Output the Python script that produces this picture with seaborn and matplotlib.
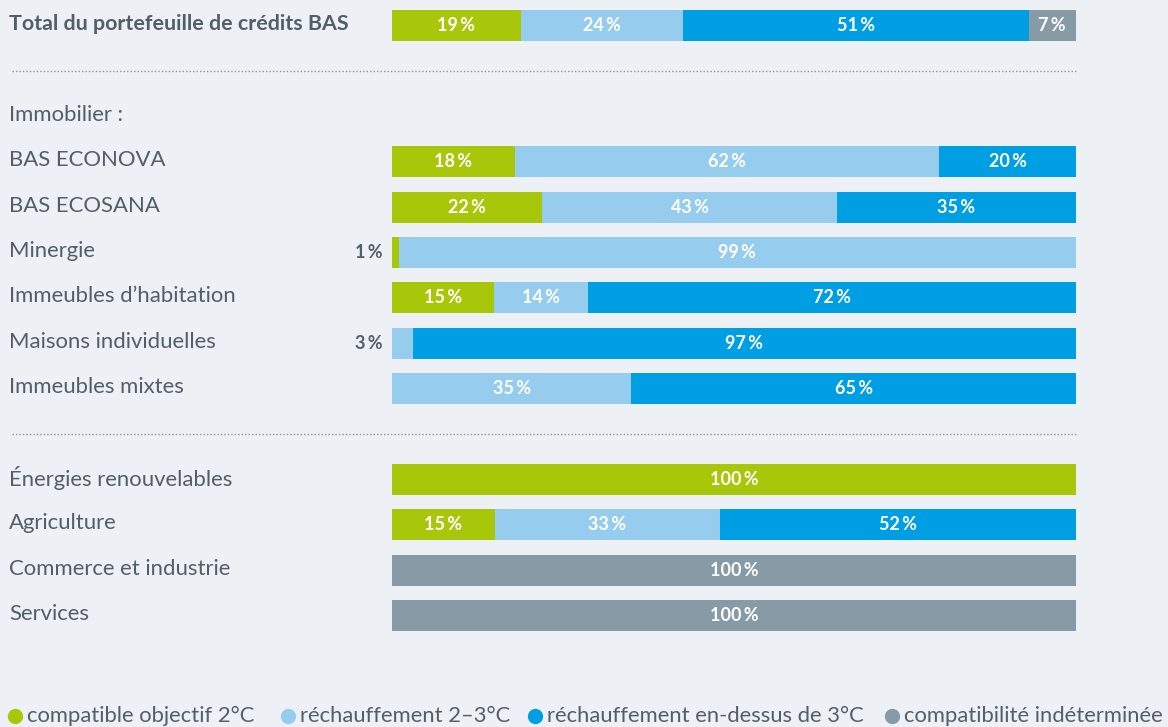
import numpy as np
import pandas as pd
import matplotlib
matplotlib.use("Agg")
import matplotlib.pyplot as plt
import matplotlib.transforms as mtransforms
from matplotlib.lines import Line2D
import seaborn as sns

# ---------------- data ----------------
categories = [
    "Total du portefeuille de crédits BAS",
    "BAS ECONOVA",
    "BAS ECOSANA",
    "Minergie",
    "Immeubles d\u2019habitation",
    "Maisons individuelles",
    "Immeubles mixtes",
    "Énergies renouvelables",
    "Agriculture",
    "Commerce et industrie",
    "Services",
]
compat_2c    = [19, 18, 22,  1, 15,  0,  0, 100, 15,   0,   0]
warm_2_3     = [24, 62, 43, 99, 14,  3, 35,   0, 33,   0,   0]
warm_3plus   = [51, 20, 35,  0, 72, 97, 65,   0, 52,   0,   0]
undetermined = [ 7,  0,  0,  0,  0,  0,  0,   0,  0, 100, 100]

series_names = ["compatible objectif 2°C", "réchauffement 2\u20133°C",
                "réchauffement en-dessus de 3°C", "compatibilité indéterminée"]
series_values = [compat_2c, warm_2_3, warm_3plus, undetermined]
colors = ["#a8c70b", "#96cdef", "#009fe3", "#879ba7"]

section_label = "Immobilier :"
# row order on the axis (placeholders for separators / section heading)
order = [categories[0], "__sep1", section_label] + categories[1:7] + ["__sep2"] + categories[7:]

# ---------------- styling ----------------
sns.set_theme(style="white")
BG = "#edf1f5"
TXT = "#535f67"
plt.rcParams["font.family"] = ["Lato", "DejaVu Sans"]

W, H = 1168, 727
fig = plt.figure(figsize=(W / 100, H / 100), dpi=100, facecolor=BG)

spacing = 45.38
top_px = 25.5 - spacing / 2
n = len(order)
ax_h = n * spacing
ax = fig.add_axes([392 / W, 1 - (top_px + ax_h) / H, 684 / W, ax_h / H])
ax.set_facecolor(BG)

df = pd.DataFrame({"category": categories})
for name, vals in zip(series_names, series_values):
    df[name] = vals
totals = df[series_names].sum(axis=1)
shares = df[series_names].div(totals, axis=0) * 100
cum = shares.cumsum(axis=1)

bar_h = 31 / spacing
# overlay cumulative bars, widest first
for name, col in reversed(list(zip(series_names, colors))):
    d = pd.DataFrame({"category": df["category"], "value": cum[name]})
    sns.barplot(data=d, x="value", y="category", order=order, orient="y",
                color=col, saturation=1, width=bar_h, linewidth=0,
                errorbar=None, ax=ax)

ax.set_xlim(0, 100)
ax.set_ylim(n - 0.5, -0.5)
ax.set_xticks([])
ax.set_yticks([])
ax.set_xlabel("")
ax.set_ylabel("")
for s in ax.spines.values():
    s.set_visible(False)

# segment labels
for i, cat in enumerate(categories):
    yi = order.index(cat)
    left = 0.0
    for name in series_names:
        v = df.loc[i, name]
        w = shares.loc[i, name]
        if v > 0:
            lab = f"{v}\u2009%"
            if v < 5:
                ax.text(-1.3, yi, lab, ha="right", va="center", color=TXT,
                        fontsize=13, fontweight="bold")
            else:
                ax.text(left + w / 2, yi, lab, ha="center", va="center",
                        color="white", fontsize=13, fontweight="bold")
        left += w

# row labels
tr = mtransforms.blended_transform_factory(fig.transFigure, ax.transData)
for lab in order:
    if lab.startswith("__"):
        continue
    yi = order.index(lab)
    bold = lab == categories[0]
    ax.text(9 / W, yi - 0.03, lab, transform=tr, ha="left", va="center",
            color=TXT, fontsize=15.4 if bold else 15.9,
            fontweight="bold" if bold else "normal", clip_on=False)

# dotted separators
for sep in ["__sep1", "__sep2"]:
    yi = order.index(sep)
    ax.plot([12 / W, 1078 / W], [yi, yi], transform=tr, color="#8a959c",
            linestyle=(0, (1, 1.5)), linewidth=1.0, clip_on=False)

# legend
leg_y = 1 - 716 / H
dot_x = [15, 288, 535, 892]
for name, col, dx in zip(series_names, colors, dot_x):
    fig.add_artist(Line2D([dx / W], [leg_y], marker="o", markersize=10,
                          color=col, linestyle="none", transform=fig.transFigure))
    fig.text((dx + 12) / W, leg_y, name, ha="left", va="center", color=TXT,
             fontsize=15.8, fontweight="normal")

fig.savefig("out.png", dpi=100, facecolor=BG)
